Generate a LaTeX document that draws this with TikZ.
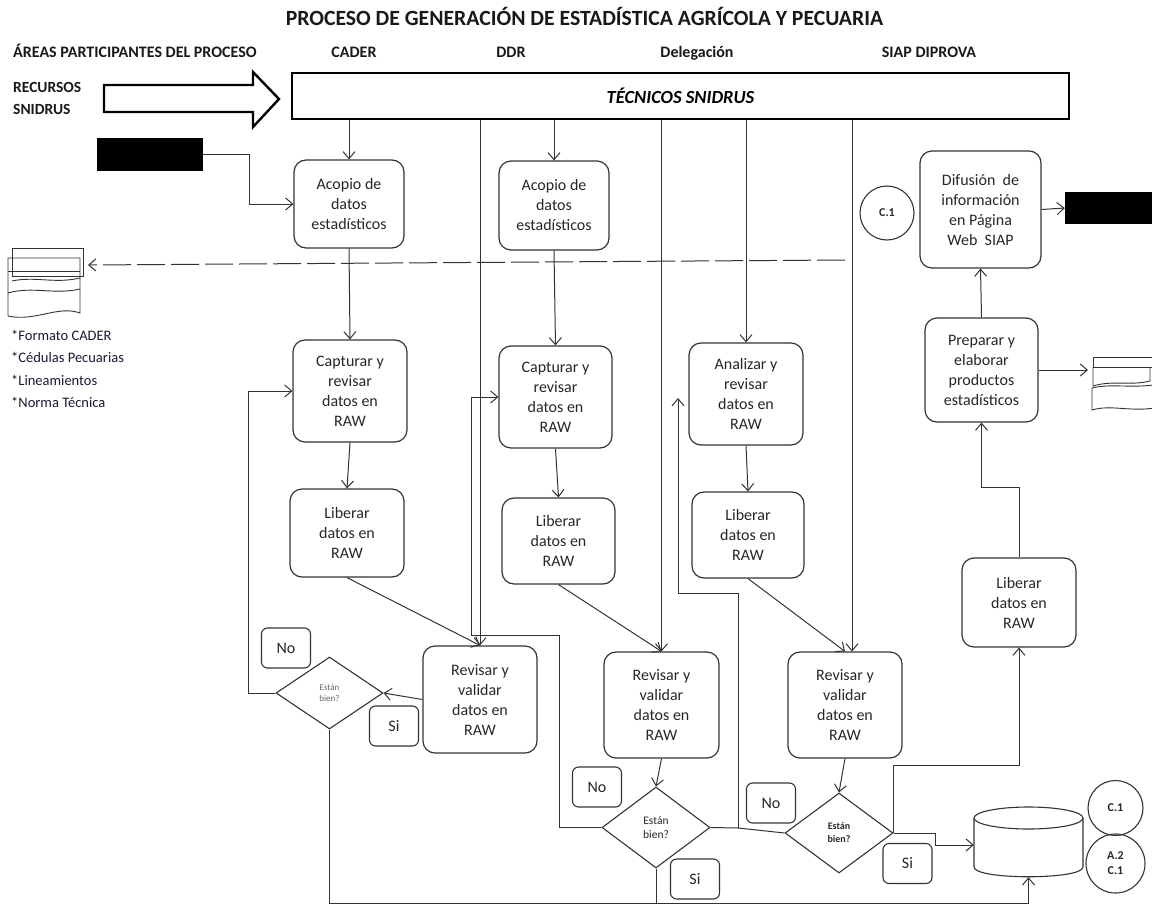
\documentclass[tikz,border=0pt]{standalone}
\usepackage{fontspec}
\setmainfont{Carlito}
\usetikzlibrary{arrows.meta,shapes.geometric}

\begin{document}
\begin{tikzpicture}[x=1pt,y=-1pt,
    box/.style={draw=black!80, line width=1.2pt, rounded corners=12pt, align=center, inner sep=0pt, text=black!85, font=\fontsize{16}{20}\selectfont},
    tag/.style={draw=black!80, line width=1.1pt, rounded corners=6pt, minimum width=49pt, minimum height=40pt, text=black!85, font=\fontsize{16}{19}\selectfont},
    ask/.style={draw=black!80, line width=1.1pt, diamond, inner sep=0pt, align=center, minimum width=108pt, minimum height=80pt},
    ring/.style={draw=black!80, line width=1.1pt, circle, inner sep=0pt, align=center, text=black!85, font=\bfseries\fontsize{12}{15}\selectfont},
    head/.style={anchor=base, inner sep=0pt, text=black!90, font=\bfseries\fontsize{16}{18}\selectfont},
    wire/.style={draw=black!80, line width=1pt},
    arr/.style={wire, -{Straight Barb[length=7pt,width=12pt]}}]
    \useasboundingbox (0,0) rectangle (1152,905);
    % titles
    \node[head, font=\bfseries\fontsize{21.7}{24}\selectfont] (title) at (584.5,25) {PROCESO DE GENERACIÓN DE ESTADÍSTICA AGRÍCOLA Y PECUARIA};
    \node[head, anchor=base west] (hAreas) at (13,57) {ÁREAS PARTICIPANTES DEL PROCESO};
    \node[head] (hCader) at (354,57) {CADER};
    \node[head] (hDdr) at (511,57) {DDR};
    \node[head] (hDel) at (697,57) {Delegación};
    \node[head] (hSiap) at (929,57) {SIAP DIPROVA};
    \node[anchor=west, inner sep=0pt, align=left, text=black!90, font=\bfseries\fontsize{15.5}{22}\selectfont] (recursos) at (13,98) {RECURSOS\\SNIDRUS};
    \draw[line width=2.4pt] (104,85) -- (253,85) -- (253,72) -- (279,99) -- (253,127) -- (253,112) -- (104,112) -- cycle;
    \node[draw, line width=2.4pt, minimum width=777pt, minimum height=46pt, inner sep=0pt, font=\bfseries\itshape\fontsize{18.5}{20}\selectfont] (tec) at (680.5,96) {TÉCNICOS SNIDRUS};

    % black boxes
    \node[fill=black, minimum width=106pt, minimum height=33pt, inner sep=0pt] (blkL) at (150,154.5) {};
    \node[fill=black, minimum width=87pt, minimum height=32pt, inner sep=0pt] (blkR) at (1108.5,208) {};

    % process boxes
    \node[box, minimum width=110pt, minimum height=88pt] (acopio1) at (349,204) {Acopio de\\datos\\estadísticos};
    \node[box, minimum width=110pt, minimum height=89pt] (acopio2) at (554,205.5) {Acopio de\\datos\\estadísticos};
    \node[box, minimum width=114pt, minimum height=102pt] (capt1) at (350,391) {Capturar y\\revisar\\datos en\\RAW};
    \node[box, minimum width=113pt, minimum height=102pt] (capt2) at (555.5,397) {Capturar y\\revisar\\datos en\\RAW};
    \node[box, minimum width=114pt, minimum height=102pt] (anal) at (746,394) {Analizar y\\revisar\\datos en\\RAW};
    \node[box, minimum width=114pt, minimum height=88pt] (lib1) at (347,533) {Liberar\\datos en\\RAW};
    \node[box, minimum width=113pt, minimum height=86pt] (lib2) at (558.5,541) {Liberar\\datos en\\RAW};
    \node[box, minimum width=112pt, minimum height=86pt] (lib3) at (748,535) {Liberar\\datos en\\RAW};
    \node[box, minimum width=114pt, minimum height=107pt] (rev1) at (480,699.5) {Revisar y\\validar\\datos en\\RAW};
    \node[box, minimum width=115pt, minimum height=106pt] (rev2) at (661.5,705) {Revisar y\\validar\\datos en\\RAW};
    \node[box, minimum width=114pt, minimum height=106pt] (rev3) at (845,705) {Revisar y\\validar\\datos en\\RAW};
    \node[box, minimum width=121pt, minimum height=117pt] (dif) at (980.5,209.5) {Difusión~ de\\información\\en Página\\Web~ SIAP};
    \node[box, minimum width=113pt, minimum height=104pt] (prep) at (981.5,370) {Preparar y\\elaborar\\productos\\estadísticos};
    \node[box, minimum width=114pt, minimum height=89pt] (lib4) at (1019,602.5) {Liberar\\datos en\\RAW};

    % decisions
    \node[ask, minimum width=107pt, minimum height=72pt, text=black!60, font=\fontsize{9}{11}\selectfont] (dia1) at (329.5,693) {Están\\bien?};
    \node[ask, minimum height=81pt, text=black!85, font=\fontsize{11.5}{14}\selectfont] (dia2) at (656,827.5) {Están\\bien?};
    \node[ask, text=black!85, font=\bfseries\fontsize{10}{13}\selectfont] (dia3) at (839,833) {Están\\bien?};
    \node[tag] (no1) at (286,648) {No};
    \node[tag] (si1) at (394,726) {Si};
    \node[tag] (no2) at (597,787) {No};
    \node[tag] (si2) at (695,879) {Si};
    \node[tag] (no3) at (771,803) {No};
    \node[tag] (si3) at (907.5,863.5) {Si};

    % connectors and database
    \node[ring, minimum size=54pt] (c1a) at (887,213) {C.1};
    \node[ring, minimum size=55pt] (c1b) at (1115.5,808) {C.1};
    \node[ring, minimum size=59pt] (a2c1) at (1115.5,863.5) {A.2\\C.1};
    \node[minimum width=109pt, minimum height=70pt, inner sep=0pt] (db) at (1028.5,842) {};
    \draw[line width=1.1pt, draw=black!80] (1028.5,818) ellipse [x radius=54.5pt, y radius=11pt];
    \draw[line width=1.1pt, draw=black!80] (974,818) -- (974,867) .. controls (974,880) and (1083,880) .. (1083,867) -- (1083,818);

    % document stacks
    \draw[line width=0.9pt, draw=black!80] (12,248) rectangle (83,276);
    \draw[line width=0.9pt, draw=black!80] (8,258) -- (80,258) -- (80,313) .. controls (58,305) and (35,322) .. (8,316) -- cycle;
    \draw[line width=0.9pt, draw=black!80] (8,271) -- (80,271);
    \draw[line width=0.9pt, draw=black!80] (12,281) .. controls (35,276) and (55,284) .. (80,278);
    \draw[line width=0.9pt, draw=black!80] (8,293) .. controls (32,286) and (55,295) .. (80,289);
    \draw[line width=0.9pt, draw=black!80] (1093,357) rectangle (1160,367);
    \draw[line width=0.9pt, draw=black!80] (1093,367) -- (1093,386) .. controls (1112,380) and (1130,386) .. (1150,381) -- (1150,367);
    \draw[line width=0.9pt, draw=black!80] (1092,388) .. controls (1112,383) and (1132,389) .. (1160,384);
    \draw[line width=0.9pt, draw=black!80] (1092,388) -- (1092,410) .. controls (1112,404) and (1132,413) .. (1160,407);
    \node[anchor=west, inner sep=0pt, align=left, text={rgb,255:red,25;green,25;blue,55}, font=\fontsize{14.5}{22.6}\selectfont] (lista) at (11,369) {*Formato CADER\\*Cédulas Pecuarias\\*Lineamientos\\*Norma Técnica};
    \coordinate (docL) at (88,265);
    \coordinate (docR) at (1088,370);
    \coordinate (dashS) at (845,260);

    % arrows
    \draw[arr] (tec.south -| acopio1.north) -- (acopio1.north);
    \draw[arr] (tec.south -| acopio2.north) -- (acopio2.north);
    \foreach \n in {rev1,rev2,anal}
        \draw[arr] (tec.south -| \n.north) -- (\n.north);
    \draw[arr] ([xshift=7pt]rev3.north |- tec.south) -- ([xshift=7pt]rev3.north);
    \foreach \a/\b in {acopio1/capt1,capt1/lib1,lib1/rev1,acopio2/capt2,capt2/lib2,lib2/rev2,anal/lib3,lib3/rev3,rev2/dia2,rev3/dia3}
        \draw[arr] (\a.south) -- (\b.north);
    \draw[arr] (blkL.east) -- ++(46,0) |- (acopio1.west);
    \draw[arr, dash pattern=on 28pt off 6pt] (dashS) -- (docL);
    \draw[arr] (rev1.west) -- (dia1.east);
    \draw[arr] (dia1.west) -- ++(-27,0) |- (capt1.west);
    \coordinate (bot) at (0,903);
    \draw[arr] (dia1.south) |- (bot -| db.south) -- (db.south);
    \draw[wire] (dia2.south) -- (dia2.south |- bot);
    \draw[arr] (dia2.west) -- ++(-42,0) |- ++(-88,-192) |- (capt2.west);
    \coordinate (j3) at (738,828);
    \coordinate (up3) at (678,398);
    \draw[wire] (dia2.east) -- (j3) -- (dia3.west);
    \draw[arr] (j3) -- ++(0,-235) -| (up3);
    \draw[arr] (dia3.east) -- ++(0,-68) -| (lib4.south);
    \draw[arr] (dia3.east) -- ++(42,0) |- ([yshift=-3pt]db.west);
    \draw[arr] (lib4.north) -- ++(0,-70) -| (prep.south);
    \draw[arr] (prep.north) -- (dif.south);
    \draw[arr] (prep.east) -- (docR);
    \draw[arr] (dif.east) -- (blkR.west);
\end{tikzpicture}
\end{document}
